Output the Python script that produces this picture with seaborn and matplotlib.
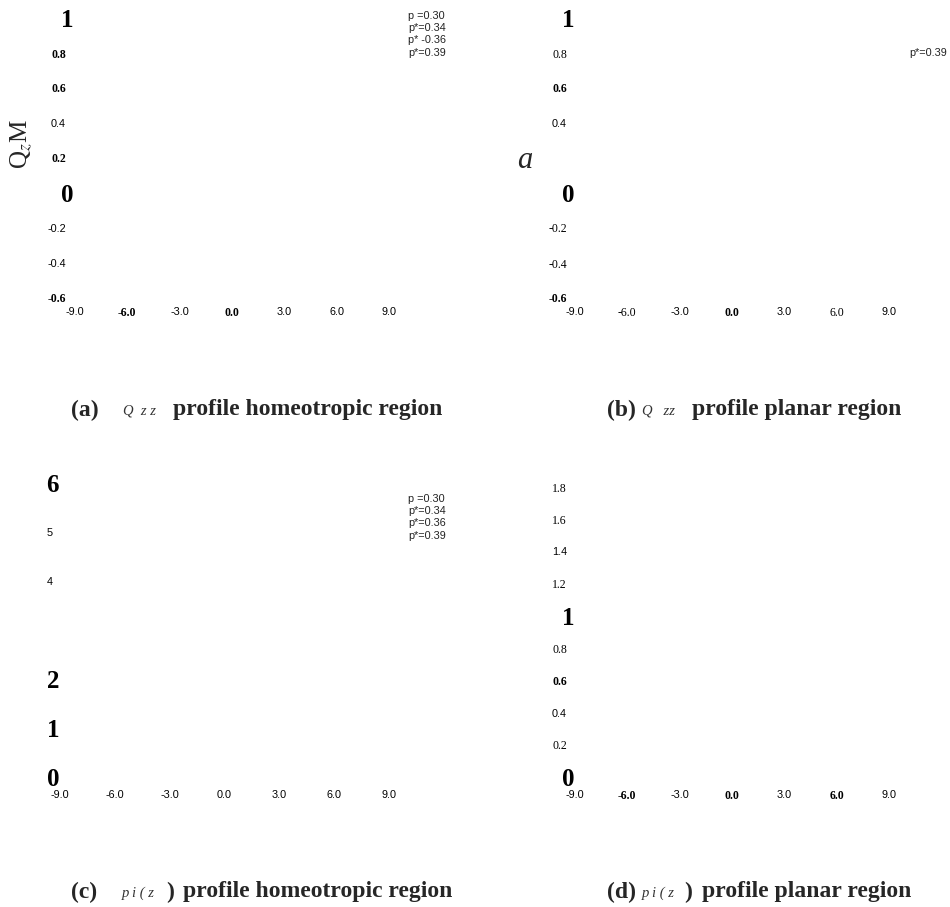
import matplotlib
matplotlib.use("Agg")
import matplotlib.pyplot as plt
import seaborn as sns

# ---------------- data ----------------
x_ticks = [-9.0, -6.0, -3.0, 0.0, 3.0, 6.0, 9.0]
x_labels = ["-9.0", "-6.0", "-3.0", "0.0", "3.0", "6.0", "9.0"]

a_y_ticks = [1, 0.8, 0.6, 0.4, 0.2, 0, -0.2, -0.4, -0.6]
a_y_labels = ["1", "0.8", "0.6", "0.4", "0.2", "0", "-0.2", "-0.4", "-0.6"]
b_y_ticks = [1, 0.8, 0.6, 0.4, 0, -0.2, -0.4, -0.6]
b_y_labels = ["1", "0.8", "0.6", "0.4", "0", "-0.2", "-0.4", "-0.6"]
c_y_ticks = [6, 5, 4, 2, 1, 0]
c_y_labels = ["6", "5", "4", "2", "1", "0"]
d_y_ticks = [1.8, 1.6, 1.4, 1.2, 1, 0.8, 0.6, 0.4, 0.2, 0]
d_y_labels = ["1.8", "1.6", "1.4", "1.2", "1", "0.8", "0.6", "0.4", "0.2", "0"]

legend_a = ["p =0.30", "p*=0.34", "p* -0.36", "p*=0.39"]
legend_b = ["p*=0.39"]
legend_c = ["p =0.30", "p*=0.34", "p*=0.36", "p*=0.39"]

captions = [("(a)", "Q  z z", "", "profile homeotropic region"),
            ("(b)", "Q   zz", "", "profile planar region"),
            ("(c)", "p i ( z", ")", "profile homeotropic region"),
            ("(d)", "p i ( z", ")", "profile planar region")]

# label styles (B big bold serif, b small bold serif, r serif, s sans)
a_y_sty = "BbbsbBssb"
a_x_sty = "sbsbsss"
b_y_sty = "BrbsBrrb"
b_x_sty = "srsbsrs"
c_y_sty = "BssBBB"
c_x_sty = "sssssss"
d_y_sty = "rrsrBrbsrB"
d_x_sty = "sbsbsbs"

# ---------------- style ----------------
sns.set_theme(style="white")
plt.rcParams["font.family"] = ["Liberation Serif", "DejaVu Serif"]
plt.rcParams["mathtext.fontset"] = "stix"

W, H = 950, 907
fig = plt.figure(figsize=(W / 100, H / 100), dpi=100)
fig.patch.set_facecolor("white")

STY = {
    "B": dict(family="Liberation Serif", weight="bold", size=18),
    "b": dict(family="Liberation Serif", weight="bold", size=8.5),
    "r": dict(family="Liberation Serif", weight="normal", size=8.5),
    "s": dict(family="Liberation Sans", weight="normal", size=7.8),
}


def inv(pix, v1, p1, v2, p2):
    return v1 + (pix - p1) * (v2 - v1) / (p2 - p1)


def make_panel(box, xmap, ymap, yt, yl, ysty, xsty, ypad_small, ypad_big):
    left, right, top, bottom = box
    ax = fig.add_axes([left / W, 1 - bottom / H, (right - left) / W, (bottom - top) / H])
    ax.set_facecolor("white")
    ax.set_xlim(inv(left, *xmap), inv(right, *xmap))
    ax.set_ylim(inv(bottom, *ymap), inv(top, *ymap))
    sns.despine(ax=ax, left=True, bottom=True, top=True, right=True)
    ax.grid(False)
    ax.tick_params(length=0, colors="black")
    ax.set_xticks(x_ticks)
    ax.set_xticklabels(x_labels)
    ax.set_yticks(yt)
    ax.set_yticklabels(yl)
    for lab, s in zip(ax.get_xticklabels(), xsty):
        lab.set(**STY[s])
    for lab, s in zip(ax.get_yticklabels(), ysty):
        lab.set(**STY[s])
    for t in ax.xaxis.get_major_ticks():
        t.set_pad(1.2)
    for t, s in zip(ax.yaxis.get_major_ticks(), ysty):
        t.set_pad(ypad_big if s == "B" else ypad_small)
    return ax


ax_a = make_panel((70, 452, 8, 305), (-9, 75, 9, 389), (1, 18, -0.6, 298),
                  a_y_ticks, a_y_labels, a_y_sty, a_x_sty, 2.9, -2.2)
ax_b = make_panel((571, 950, 8, 305), (-9, 575, 9, 889), (1, 18, -0.6, 298),
                  b_y_ticks, b_y_labels, b_y_sty, b_x_sty, 2.9, -2.2)
ax_c = make_panel((57, 452, 470, 788), (-9, 60, 9, 389), (0, 777, 6, 483),
                  c_y_ticks, c_y_labels, c_y_sty, c_x_sty, 2.9, -1.5)
ax_d = make_panel((571, 950, 470, 788), (-9, 575, 9, 889), (0, 777, 1.8, 487),
                  d_y_ticks, d_y_labels, d_y_sty, d_x_sty, 2.9, -2.2)


def ftext(px, py, s, **kw):
    return fig.text(px / W, 1 - py / H, s, **kw)


# legend-like annotations
leg_kw = dict(family="Liberation Sans", size=7.8, color="#222222", ha="left", va="center")
for s, py in zip(legend_a, [16, 28, 40, 53]):
    ftext(408, py, s, **leg_kw)
for s, py in zip(legend_b, [53]):
    ftext(909, py, s, **leg_kw)
for s, py in zip(legend_c, [499, 511, 523, 536]):
    ftext(408, py, s, **leg_kw)

# y-axis labels
ftext(22, 144, "Q$_{z}$M", family="Liberation Serif", size=18, rotation=90,
      ha="center", va="center")
ftext(525, 160, "a", family="Liberation Serif", style="italic", size=22, ha="center", va="center")

# captions
cap_pos = [(71, 123, None, 173, 410), (607, 642, None, 692, 410),
           (71, 122, 166, 183, 892), (607, 642, 684, 702, 892)]
for (lab, sym, close, txt), (x1, x2, x3, x4, py) in zip(captions, cap_pos):
    ftext(x1, py, lab, family="Liberation Serif", weight="bold", size=17, ha="left", va="center")
    ftext(x2, py + 1, sym, family="Liberation Serif", style="italic", size=10.5,
          color="#333333", ha="left", va="center")
    if close:
        ftext(x3, py, close, family="Liberation Serif", weight="bold", size=17,
              ha="left", va="center")
    ftext(x4, py, txt, family="Liberation Serif", weight="bold", size=17, ha="left", va="center")

fig.savefig("out.png", dpi=100, facecolor="white")
